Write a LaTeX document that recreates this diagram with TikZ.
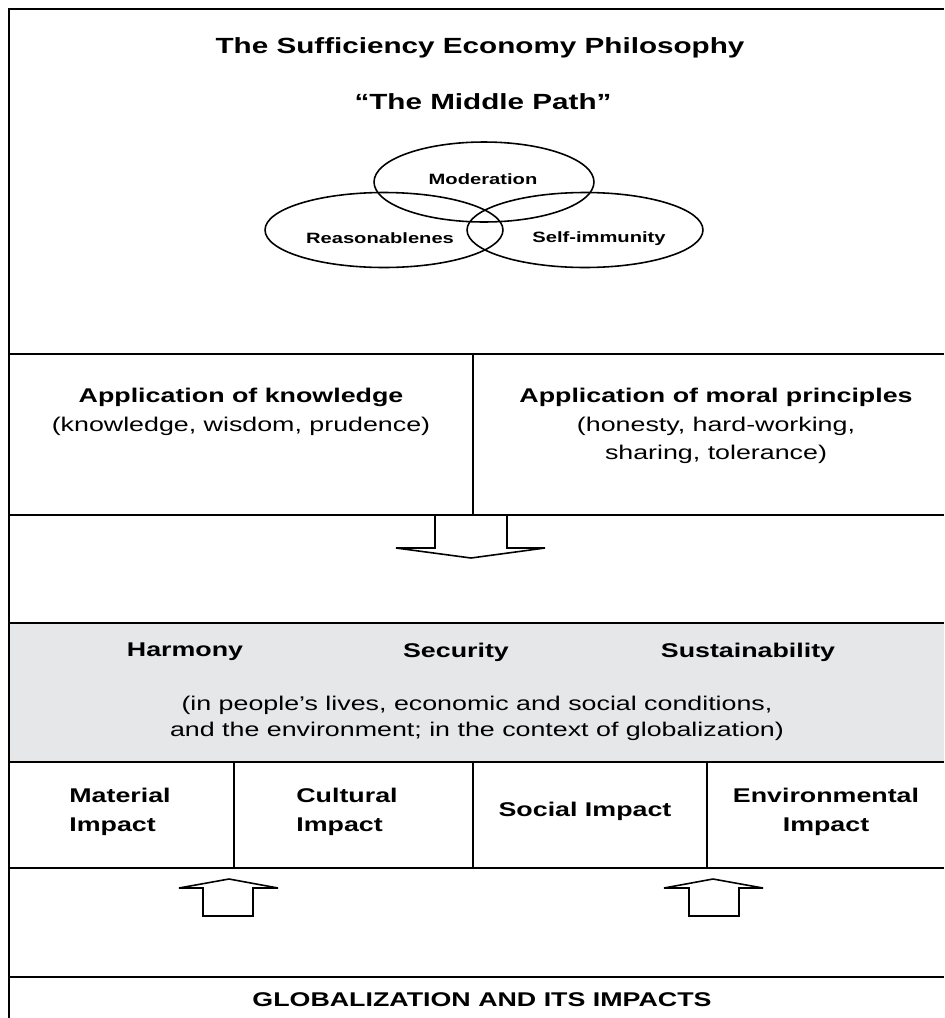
\documentclass[tikz,border=0pt]{standalone}
\usepackage{fontspec}
\setmainfont{Liberation Sans}[FakeStretch=1.35]
\usetikzlibrary{shapes.geometric}
\definecolor{bandgray}{RGB}{230,231,232}
\newcommand{\bodysize}{\fontsize{11.3}{16.4}\selectfont}

\begin{document}
\begin{tikzpicture}[x=0.02cm,y=-0.02cm]
  \tikzstyle{rule}=[line width=1.1pt]
  \tikzstyle{ring}=[draw,ellipse,line width=0.9pt,inner sep=0pt]
  \tikzstyle{head}=[font=\bfseries\fontsize{12.5}{15}\selectfont]
  \tikzstyle{bold}=[font=\bfseries\bodysize,align=center]
  \tikzstyle{plain}=[font=\bodysize,align=center]
  \tikzstyle{small}=[font=\bfseries\fontsize{8.5}{10}\selectfont]
  \tikzstyle{block}=[draw,line width=0.9pt,fill=white,line join=miter]
  \useasboundingbox (0,0) rectangle (944,1018);
  \fill[bandgray] (9,623) rectangle (944,762);
  % frame and dividers
  \draw[rule] (944,9) -- (9,9) -- (9,1018);
  \foreach \y in {354,515,623,762,868,977}
    \draw[rule] (9,\y) -- (944,\y);
  \draw[rule] (473,354) -- (473,515);
  \foreach \x in {234,473,707}
    \draw[rule] (\x,762) -- (\x,868);
  % philosophy
  \node[head] (title) at (480,48) {The Sufficiency Economy Philosophy};
  \node[head] (path) at (483,102) {“The Middle Path”};
  \node[ring,minimum width=4.4cm,minimum height=1.6cm] (modE) at (484,182) {};
  \node[ring,minimum width=4.76cm,minimum height=1.5cm] (reasE) at (384,230) {};
  \node[ring,minimum width=4.72cm,minimum height=1.5cm] (selfE) at (585,230) {};
  \node[small] (mod) at (483,179) {Moderation};
  \node[small] (reas) at (380,238) {Reasonablenes};
  \node[small] (self) at (599,239) {Self-immunity};
  % applications
  \node[plain] (know) at (241,412) {\textbf{Application of knowledge}\\(knowledge, wisdom, prudence)};
  \node[plain] (moral) at (716,426) {\textbf{Application of moral principles}\\(honesty, hard-working,\\sharing, tolerance)};
  \draw[block] (435,515) -- (435,548) -- (396,548) -- (471,558) -- (545,548) -- (507,548) -- (507,515) -- cycle;
  % outcomes
  \node[bold] (harm) at (185,652) {Harmony};
  \node[bold] (secu) at (456,652) {Security};
  \node[bold] (sust) at (748,652) {Sustainability};
  \node[plain,font=\fontsize{11.3}{14.7}\selectfont] (ctx) at (477,718) {(in people’s lives, economic and social conditions,\\and the environment; in the context of globalization)};
  % impacts
  \node[bold,align=left] (mat) at (120,812) {Material\\Impact};
  \node[bold,align=left] (cult) at (347,812) {Cultural\\Impact};
  \node[bold] (soc) at (585,811) {Social Impact};
  \node[bold] (env) at (826,812) {Environmental\\Impact};
  \draw[block] (203,916) -- (203,888) -- (179,888) -- (229,879) -- (278,888) -- (253,888) -- (253,916) -- cycle;
  \draw[block] (689,916) -- (689,888) -- (664,888) -- (713,879) -- (763,888) -- (739,888) -- (739,916) -- cycle;
  \node[bold] (glob) at (482,1000) {GLOBALIZATION AND ITS IMPACTS};
\end{tikzpicture}
\end{document}
